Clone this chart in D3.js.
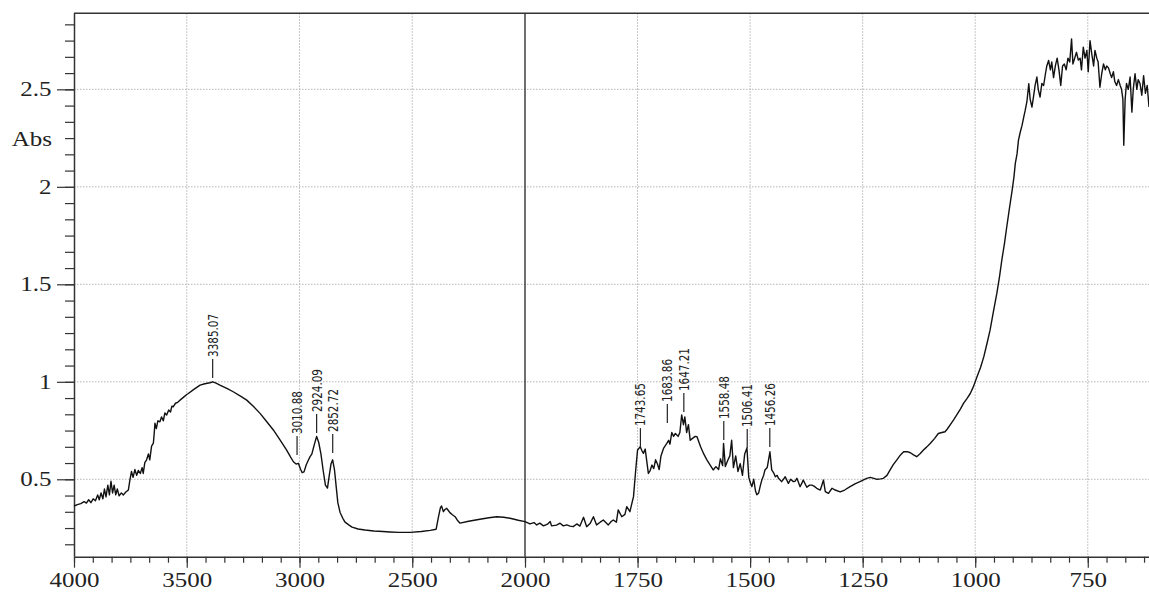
<!DOCTYPE html>
<html>
<head>
<meta charset="utf-8">
<script src="https://cdn.jsdelivr.net/npm/d3@7"></script>
<style>
  html, body { margin: 0; padding: 0; background: #fff; }
  svg { display: block; }
</style>
</head>
<body>
<svg id="chart" width="1149" height="592"></svg>
<script>
// O-H band, 4000 - 3000 cm-1
const waveOH = [4000, 3985, 3970, 3955, 3945, 3935, 3925, 3915, 3905, 3895, 3888, 3880, 3872, 3865, 3858, 3850, 3843, 3836, 3829, 3822,
  3815, 3808, 3800, 3790, 3781, 3770, 3759, 3752, 3745, 3738, 3730, 3722, 3715, 3706, 3698, 3693, 3686, 3678, 3670, 3664,
  3656, 3648, 3644, 3641, 3635, 3628, 3619, 3612, 3604, 3597, 3589, 3580, 3572, 3566, 3560, 3550, 3540, 3530, 3515, 3500,
  3493, 3470, 3441, 3420, 3397, 3385, 3370, 3353, 3320, 3294, 3260, 3234, 3205, 3175, 3145, 3116, 3085, 3057, 3040, 3027,
  3015, 3005];
const absOH = [0.363, 0.37, 0.375, 0.385, 0.378, 0.395, 0.38, 0.40, 0.39, 0.42, 0.395, 0.43, 0.40, 0.45, 0.41, 0.47, 0.42, 0.49, 0.43, 0.47,
  0.42, 0.45, 0.415, 0.43, 0.42, 0.435, 0.445, 0.497, 0.54, 0.51, 0.55, 0.52, 0.545, 0.53, 0.56, 0.53, 0.585, 0.60, 0.63, 0.60,
  0.67, 0.686, 0.74, 0.788, 0.76, 0.80, 0.795, 0.82, 0.80, 0.84, 0.83, 0.855, 0.845, 0.875, 0.872, 0.89, 0.895, 0.906, 0.92, 0.935,
  0.94, 0.96, 0.983, 0.99, 0.995, 1.0, 0.993, 0.983, 0.965, 0.949, 0.925, 0.906, 0.875, 0.838, 0.795, 0.753, 0.70, 0.65, 0.615, 0.59,
  0.578, 0.582];

// C-H stretch and the flat stretch to 2000 cm-1
const waveCH = [2995, 2988, 2980, 2970, 2960, 2953, 2945, 2935, 2924, 2915, 2905, 2895, 2885, 2876, 2868, 2860, 2853, 2845, 2838, 2830,
  2820, 2808, 2798, 2780, 2767, 2740, 2710, 2670, 2630, 2599, 2560, 2510, 2460, 2420, 2394, 2385, 2375, 2370, 2362, 2355,
  2347, 2340, 2333, 2322, 2310, 2300, 2288, 2250, 2200, 2160, 2125, 2095, 2066, 2030, 2000];
const absCH = [0.55, 0.534, 0.538, 0.575, 0.60, 0.616, 0.63, 0.675, 0.72, 0.69, 0.63, 0.545, 0.47, 0.455, 0.52, 0.58, 0.60, 0.55, 0.47, 0.38,
  0.33, 0.30, 0.28, 0.265, 0.255, 0.245, 0.24, 0.235, 0.232, 0.23, 0.228, 0.228, 0.232, 0.238, 0.244, 0.30, 0.355, 0.363, 0.334, 0.345,
  0.351, 0.34, 0.329, 0.318, 0.308, 0.29, 0.275, 0.285, 0.295, 0.303, 0.308, 0.305, 0.30, 0.29, 0.283];

// carbonyl / amide region, 2000 - 1300 cm-1
const waveAmide = [1989, 1980, 1974, 1967, 1959, 1950, 1944, 1941, 1930, 1922, 1915, 1907, 1900, 1893, 1885, 1878, 1870, 1863, 1855, 1848,
  1841, 1833, 1826, 1815, 1808, 1804, 1797, 1793, 1785, 1778, 1774, 1767, 1759, 1754, 1750, 1744, 1740, 1737, 1733, 1726,
  1722, 1718, 1714, 1710, 1706, 1702, 1698, 1692, 1685, 1681, 1678, 1674, 1670, 1666, 1660, 1656, 1652, 1648, 1645, 1641,
  1637, 1633, 1628, 1622, 1618, 1610, 1603, 1596, 1588, 1582, 1576, 1570, 1566, 1561, 1559, 1555, 1550, 1545, 1541, 1537,
  1532, 1527, 1522, 1517, 1512, 1507, 1503, 1499, 1496, 1492, 1488, 1485, 1481, 1477, 1474, 1470, 1467, 1462, 1456, 1452,
  1447, 1444, 1440, 1437, 1430, 1426, 1422, 1415, 1410, 1404, 1400, 1396, 1389, 1385, 1382, 1374, 1368, 1363, 1358, 1352,
  1344, 1337, 1333, 1326, 1318, 1311];
const absAmide = [0.271, 0.278, 0.266, 0.275, 0.261, 0.27, 0.283, 0.261, 0.265, 0.275, 0.261, 0.266, 0.26, 0.257, 0.271, 0.26, 0.305, 0.257, 0.275, 0.308,
  0.266, 0.28, 0.291, 0.266, 0.285, 0.291, 0.28, 0.343, 0.308, 0.32, 0.36, 0.334, 0.411, 0.55, 0.65, 0.667, 0.645, 0.633, 0.655, 0.53,
  0.545, 0.573, 0.555, 0.60, 0.58, 0.55, 0.62, 0.66, 0.684, 0.70, 0.68, 0.74, 0.72, 0.735, 0.72, 0.74, 0.83, 0.78, 0.82, 0.74,
  0.78, 0.70, 0.71, 0.72, 0.718, 0.667, 0.63, 0.60, 0.57, 0.548, 0.565, 0.55, 0.605, 0.57, 0.684, 0.565, 0.595, 0.62, 0.70, 0.56,
  0.62, 0.54, 0.58, 0.52, 0.63, 0.66, 0.51, 0.48, 0.462, 0.50, 0.44, 0.42, 0.43, 0.47, 0.496, 0.52, 0.548, 0.56, 0.641, 0.548,
  0.53, 0.513, 0.52, 0.505, 0.488, 0.50, 0.513, 0.479, 0.50, 0.488, 0.49, 0.505, 0.462, 0.48, 0.496, 0.459, 0.47, 0.47, 0.465, 0.454,
  0.445, 0.496, 0.437, 0.428, 0.454, 0.445];

// fingerprint region, 1300 - 614 cm-1
const waveFinger = [1300, 1290, 1278, 1266, 1256, 1248, 1241, 1233, 1225, 1218, 1210, 1204, 1196, 1189, 1182, 1174, 1166, 1159, 1151, 1144,
  1137, 1130, 1122, 1115, 1108, 1100, 1090, 1082, 1074, 1067, 1062, 1056, 1048, 1041, 1033, 1026, 1018, 1011, 1005, 1000,
  996, 988, 981, 974, 967, 960, 952, 946, 941, 935, 930, 924, 918, 914, 911, 907, 904, 900, 896, 892,
  889, 885, 881, 878, 874, 870, 867, 863, 860, 856, 852, 848, 844, 841, 837, 833, 830, 826, 822, 818,
  814, 810, 806, 802, 798, 794, 790, 786, 783, 779, 775, 771, 767, 764, 760, 756, 752, 749, 745, 741,
  737, 734, 730, 727, 723, 719, 715, 711, 708, 704, 700, 697, 693, 690, 686, 682, 678, 675, 672, 670,
  667, 664, 660, 656, 652, 649, 645, 641, 638, 634, 630, 626, 622, 618, 614];
const absFinger = [0.435, 0.445, 0.462, 0.478, 0.488, 0.497, 0.505, 0.51, 0.505, 0.50, 0.502, 0.505, 0.52, 0.548, 0.575, 0.60, 0.625, 0.641, 0.642, 0.636,
  0.625, 0.616, 0.632, 0.65, 0.665, 0.684, 0.71, 0.735, 0.74, 0.744, 0.758, 0.778, 0.805, 0.83, 0.86, 0.889, 0.915, 0.94, 0.97, 1.0,
  1.026, 1.075, 1.128, 1.195, 1.265, 1.355, 1.453, 1.54, 1.623, 1.71, 1.794, 1.89, 1.982, 2.05, 2.119, 2.17, 2.238, 2.28, 2.315, 2.36,
  2.392, 2.44, 2.529, 2.45, 2.409, 2.47, 2.52, 2.563, 2.50, 2.46, 2.53, 2.52, 2.58, 2.62, 2.648, 2.60, 2.64, 2.56, 2.62, 2.66,
  2.60, 2.52, 2.62, 2.63, 2.60, 2.66, 2.64, 2.759, 2.63, 2.66, 2.69, 2.65, 2.66, 2.60, 2.716, 2.66, 2.70, 2.59, 2.75, 2.68,
  2.62, 2.70, 2.66, 2.64, 2.511, 2.58, 2.63, 2.60, 2.62, 2.61, 2.58, 2.56, 2.59, 2.54, 2.52, 2.55, 2.52, 2.50, 2.45, 2.213,
  2.45, 2.53, 2.50, 2.563, 2.383, 2.50, 2.58, 2.50, 2.55, 2.53, 2.47, 2.57, 2.48, 2.52, 2.41];

// peak picks and the height where each marker starts
const peakWaves = [3385.07, 3010.88, 2924.09, 2852.72, 1743.65, 1683.86, 1647.21, 1558.48, 1506.41, 1456.26];
const peakAbs = [1.02, 0.624, 0.737, 0.635, 0.665, 0.789, 0.845, 0.701, 0.66, 0.665];

const xMajor = [4000, 3500, 3000, 2500, 2000, 1750, 1500, 1250, 1000, 750];
const yMajor = [0.5, 1, 1.5, 2, 2.5];

const svg = d3.select("#chart");
const mLeft = 74, mTop = 13.3, mBottom = 556.7, mRight = 1149;

// axis is split at 2000: the right half has twice the scale
const x = d3.scaleLinear().domain([4000, 2000, 614]).range([mLeft, 525, mRight]);
const y = d3.scaleLinear().domain([0.103, 2.89]).range([mBottom, mTop]);

// minor ticks: 6 per major interval
const xMinor = d3.range(4000, 2000, -500 / 6).concat(d3.range(2000, 614, -250 / 6));
const yMinor = d3.range(0.5 - 4 / 12, 2.9, 1 / 12);

// grid
svg.append("g").selectAll("line").data(xMajor.filter(d => d !== 4000 && d !== 2000)).join("line")
  .attr("x1", d => x(d)).attr("x2", d => x(d))
  .attr("y1", mTop).attr("y2", mBottom)
  .attr("stroke", "#b5b5b5").attr("stroke-dasharray", "1.5,1.5");
svg.append("g").selectAll("line").data(yMajor).join("line")
  .attr("x1", mLeft).attr("x2", mRight)
  .attr("y1", d => y(d)).attr("y2", d => y(d))
  .attr("stroke", "#b5b5b5").attr("stroke-dasharray", "1.5,1.5");

// break line at 2000 and the top frame
svg.append("line").attr("x1", x(2000)).attr("x2", x(2000)).attr("y1", mTop).attr("y2", mBottom)
  .attr("stroke", "#222").attr("stroke-width", 1.3);
svg.append("line").attr("x1", mLeft).attr("x2", mRight).attr("y1", mTop).attr("y2", mTop)
  .attr("stroke", "#333").attr("stroke-width", 1.5);

// axes
const fontSerif = "'Liberation Serif', 'Times New Roman', serif";

svg.append("g").attr("transform", `translate(0,${mBottom})`)
  .call(d3.axisBottom(x).tickValues(xMinor).tickSize(6).tickFormat("").tickSizeOuter(0))
  .call(g => g.select(".domain").remove());
const xAxis = svg.append("g").attr("transform", `translate(0,${mBottom})`)
  .call(d3.axisBottom(x).tickValues(xMajor).tickSize(11).tickPadding(5).tickSizeOuter(0).tickFormat(d3.format("")));
xAxis.select(".domain").attr("d", `M${mLeft},0.5H${mRight}`);

svg.append("g").attr("transform", `translate(${mLeft},0)`)
  .call(d3.axisLeft(y).tickValues(yMinor).tickSize(9).tickFormat("").tickSizeOuter(0))
  .call(g => g.select(".domain").remove());
const yAxis = svg.append("g").attr("transform", `translate(${mLeft},0)`)
  .call(d3.axisLeft(y).tickValues(yMajor).tickSize(17).tickPadding(1).tickSizeOuter(0).tickFormat(d3.format("")));
yAxis.select(".domain").attr("d", `M0.5,${mTop}V${mBottom}`);

svg.selectAll(".tick line").attr("stroke", "#333").attr("stroke-width", 1.2);
svg.selectAll(".domain").attr("stroke", "#333").attr("stroke-width", 1.5);
svg.selectAll(".tick text")
  .attr("font-family", fontSerif).attr("font-size", 20).attr("fill", "#222")
  .attr("transform", "scale(1.25,1)");

svg.append("text").text("Abs")
  .attr("transform", "translate(52,146) scale(1.25,1)")
  .attr("text-anchor", "end")
  .attr("font-family", fontSerif).attr("font-size", 20).attr("fill", "#222");

// spectrum
const spectrum = [].concat(
  d3.zip(waveOH, absOH), d3.zip(waveCH, absCH),
  d3.zip(waveAmide, absAmide), d3.zip(waveFinger, absFinger));

const line = d3.line().x(d => x(d[0])).y(d => y(d[1]));
svg.append("path").datum(spectrum)
  .attr("d", line)
  .attr("fill", "none").attr("stroke", "#111").attr("stroke-width", 1.4)
  .attr("stroke-linejoin", "round");

// peak labels
const peaks = d3.zip(peakWaves, peakAbs);
const pk = svg.append("g").selectAll("g").data(peaks).join("g")
  .attr("transform", d => `translate(${x(d[0])},${y(d[1])})`);
pk.append("line").attr("y1", 0).attr("y2", -19).attr("stroke", "#222").attr("stroke-width", 1.2);
pk.append("text")
  .text(d => d[0].toFixed(2))
  .attr("transform", "translate(0,-21) rotate(-90)")
  .attr("dy", "0.36em")
  .attr("font-family", "'DejaVu Sans Condensed', 'DejaVu Sans', sans-serif")
  .attr("font-size", 14)
  .attr("textLength", 43).attr("lengthAdjust", "spacingAndGlyphs")
  .attr("fill", "#222");
</script>
</body>
</html>
